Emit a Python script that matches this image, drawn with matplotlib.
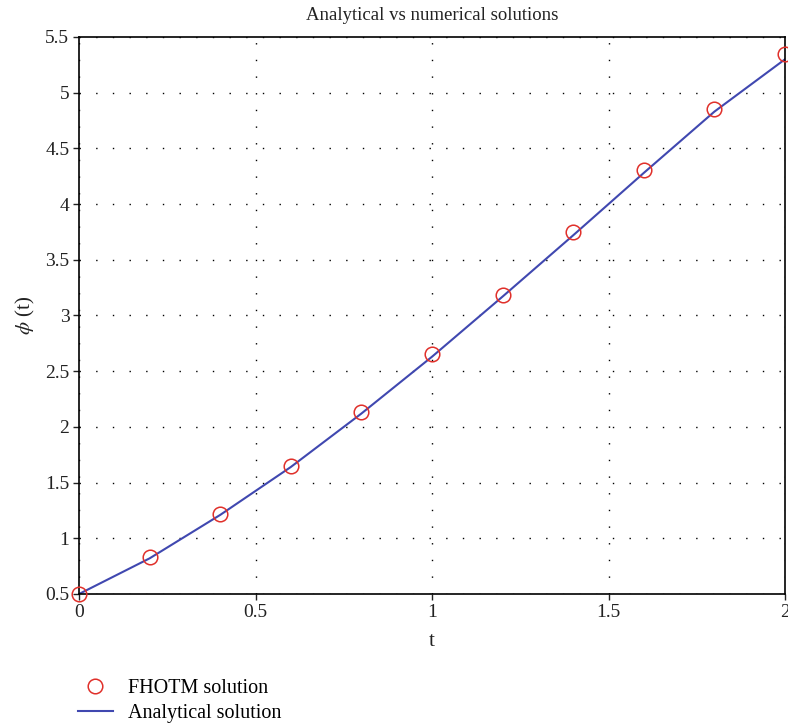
import matplotlib
matplotlib.use('Agg')
import matplotlib.pyplot as plt

plt.rcParams['font.family'] = ['Liberation Serif', 'DejaVu Serif']
plt.rcParams['mathtext.fontset'] = 'stix'

t_num = [0.0, 0.2, 0.4, 0.6, 0.8, 1.0, 1.2, 1.4, 1.6, 1.8, 2.0]
phi_num = [0.50, 0.83, 1.22, 1.65, 2.13, 2.65, 3.18, 3.75, 4.31, 4.85, 5.35]

t_exact = [0.0, 0.2, 0.4, 0.6, 0.8, 1.0, 1.2, 1.4, 1.6, 1.8, 2.0]
phi_exact = [0.50, 0.82, 1.21, 1.64, 2.12, 2.63, 3.17, 3.72, 4.28, 4.83, 5.30]

xticks = [0, 0.5, 1, 1.5, 2]
yticks = [0.5, 1, 1.5, 2, 2.5, 3, 3.5, 4, 4.5, 5, 5.5]

fig = plt.figure(figsize=(7.88, 7.25), dpi=100)
ax = fig.add_axes([0.1003, 0.1807, 0.8959, 0.7683])

ax.plot(t_num, phi_num, 'o', mfc='none', mec='#e0302a', ms=10.5, mew=1.1,
        clip_on=False, zorder=3, label='FHOTM solution')
ax.plot(t_exact, phi_exact, '-', color='#4048b0', lw=1.5, label='Analytical solution')

ax.set_xlim(0, 2)
ax.set_ylim(0.5, 5.5)
ax.set_xticks(xticks)
ax.set_xticklabels(['0', '0.5', '1', '1.5', '2'])
ax.set_yticks(yticks)
ax.set_yticklabels(['0.5', '1', '1.5', '2', '2.5', '3', '3.5', '4', '4.5', '5', '5.5'])
ax.tick_params(direction='out', length=4, width=1, labelsize=14, colors='#222222', pad=3)
ax.grid(True, color='black', linestyle=(0, (1, 11)), linewidth=1)
for s in ax.spines.values():
    s.set_linewidth(1.2)

ax.set_title('Analytical vs numerical solutions', fontsize=13.5, pad=12, color='#222222')
ax.set_xlabel('t', fontsize=15, color='#222222', labelpad=8)
ax.set_ylabel(r'$\phi$ (t)', fontsize=15, color='#222222', labelpad=6)

fig.legend(loc='upper left', bbox_to_anchor=(0.0856, 0.0777), frameon=False,
           fontsize=14.5, handlelength=1.75, borderpad=0, labelspacing=0.3,
           handletextpad=0.75)

fig.savefig('out.png', dpi=100)
